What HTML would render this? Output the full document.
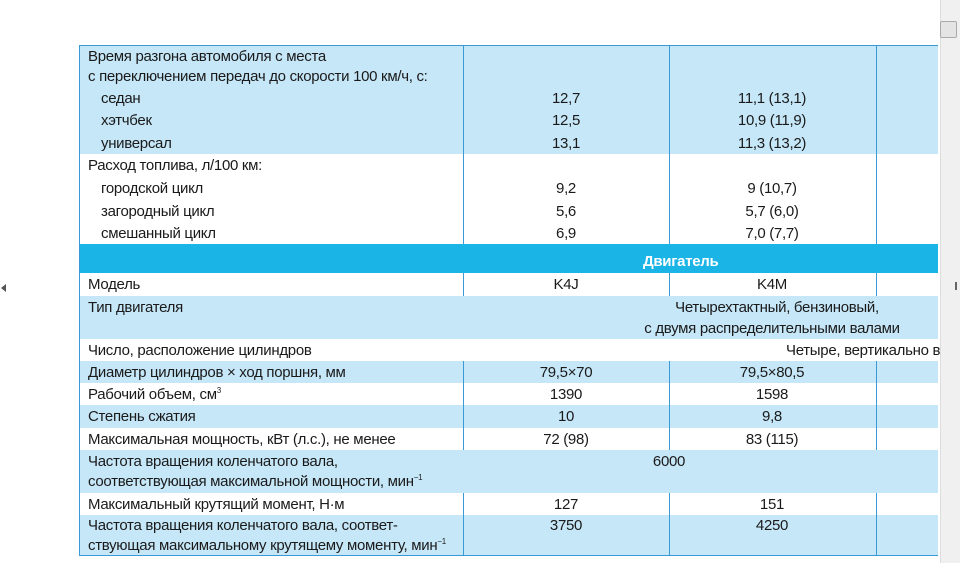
<!DOCTYPE html>
<html><head><meta charset="utf-8"><style>
body{margin:0;width:960px;height:563px;background:#fff;position:relative;overflow:hidden;font-family:"Liberation Sans Narrow","Liberation Sans",sans-serif;font-size:15px;color:#1a1a1a;letter-spacing:-0.3px}
.r{position:absolute;left:79px;width:859px}
.b{background:#c6e7f8}
.t{position:absolute;white-space:nowrap;line-height:18px}
.c{transform:translateX(-50%)}
.v{position:absolute;width:1px;background:#3a9ad6}
sup{font-size:8px;line-height:0;vertical-align:6px}
</style></head><body>
<div class="r b" style="top:45px;height:109px"></div>
<div class="r" style="top:244px;height:29px;background:#1ab4e6"></div>
<div class="r b" style="top:296px;height:43px"></div>
<div class="r b" style="top:361px;height:22px"></div>
<div class="r b" style="top:405px;height:23px"></div>
<div class="r b" style="top:450px;height:43px"></div>
<div class="r b" style="top:515px;height:41px"></div>
<div style="position:absolute;left:79px;top:45px;width:859px;height:1px;background:#3a9ad6"></div>
<div style="position:absolute;left:79px;top:555px;width:859px;height:1px;background:#3a9ad6"></div>
<div class="v" style="left:79px;top:45px;height:511px"></div>
<div class="v" style="left:463px;top:45px;height:199px"></div>
<div class="v" style="left:669px;top:45px;height:199px"></div>
<div class="v" style="left:876px;top:45px;height:199px"></div>
<div class="v" style="left:463px;top:273px;height:23px"></div>
<div class="v" style="left:669px;top:273px;height:23px"></div>
<div class="v" style="left:876px;top:273px;height:23px"></div>
<div class="v" style="left:463px;top:361px;height:89px"></div>
<div class="v" style="left:669px;top:361px;height:89px"></div>
<div class="v" style="left:876px;top:361px;height:89px"></div>
<div class="v" style="left:463px;top:493px;height:63px"></div>
<div class="v" style="left:669px;top:493px;height:63px"></div>
<div class="v" style="left:876px;top:493px;height:63px"></div>

<div class="t" style="left:88px;top:48px">Время разгона автомобиля с места</div>
<div class="t" style="left:88px;top:68px">с переключением передач до скорости 100 км/ч, с:</div>
<div class="t" style="left:101px;top:90px">седан</div>
<div class="t" style="left:101px;top:112px">хэтчбек</div>
<div class="t" style="left:101px;top:135px">универсал</div>
<div class="t c" style="left:566px;top:90px">12,7</div>
<div class="t c" style="left:566px;top:112px">12,5</div>
<div class="t c" style="left:566px;top:135px">13,1</div>
<div class="t c" style="left:772px;top:90px">11,1 (13,1)</div>
<div class="t c" style="left:772px;top:112px">10,9 (11,9)</div>
<div class="t c" style="left:772px;top:135px">11,3 (13,2)</div>
<div class="t" style="left:88px;top:157px">Расход топлива, л/100 км:</div>
<div class="t" style="left:101px;top:180px">городской цикл</div>
<div class="t" style="left:101px;top:203px">загородный цикл</div>
<div class="t" style="left:101px;top:225px">смешанный цикл</div>
<div class="t c" style="left:566px;top:180px">9,2</div>
<div class="t c" style="left:566px;top:203px">5,6</div>
<div class="t c" style="left:566px;top:225px">6,9</div>
<div class="t c" style="left:772px;top:180px">9 (10,7)</div>
<div class="t c" style="left:772px;top:203px">5,7 (6,0)</div>
<div class="t c" style="left:772px;top:225px">7,0 (7,7)</div>
<div class="t" style="left:643px;top:253px;color:#fff;font-weight:bold">Двигатель</div>
<div class="t" style="left:88px;top:276px">Модель</div>
<div class="t c" style="left:566px;top:276px">K4J</div>
<div class="t c" style="left:772px;top:276px">K4M</div>
<div class="t" style="left:88px;top:299px">Тип двигателя</div>
<div class="t c" style="left:777px;top:299px">Четырехтактный, бензиновый,</div>
<div class="t c" style="left:772px;top:320px">с двумя распределительными валами</div>
<div class="t" style="left:88px;top:342px">Число, расположение цилиндров</div>
<div class="t" style="left:786px;top:342px">Четыре, вертикально в</div>
<div class="t" style="left:88px;top:364px">Диаметр цилиндров × ход поршня, мм</div>
<div class="t c" style="left:566px;top:364px">79,5×70</div>
<div class="t c" style="left:772px;top:364px">79,5×80,5</div>
<div class="t" style="left:88px;top:386px">Рабочий объем, см<sup>3</sup></div>
<div class="t c" style="left:566px;top:386px">1390</div>
<div class="t c" style="left:772px;top:386px">1598</div>
<div class="t" style="left:88px;top:408px">Степень сжатия</div>
<div class="t c" style="left:566px;top:408px">10</div>
<div class="t c" style="left:772px;top:408px">9,8</div>
<div class="t" style="left:88px;top:431px">Максимальная мощность, кВт (л.с.), не менее</div>
<div class="t c" style="left:566px;top:431px">72 (98)</div>
<div class="t c" style="left:772px;top:431px">83 (115)</div>
<div class="t" style="left:88px;top:453px">Частота вращения коленчатого вала,</div>
<div class="t" style="left:88px;top:473px">соответствующая максимальной мощности, мин<sup>−1</sup></div>
<div class="t c" style="left:669px;top:453px">6000</div>
<div class="t" style="left:88px;top:496px">Максимальный крутящий момент, Н·м</div>
<div class="t c" style="left:566px;top:496px">127</div>
<div class="t c" style="left:772px;top:496px">151</div>
<div class="t" style="left:88px;top:517px">Частота вращения коленчатого вала, соответ-</div>
<div class="t" style="left:88px;top:537px">ствующая максимальному крутящему моменту, мин<sup>−1</sup></div>
<div class="t c" style="left:566px;top:517px">3750</div>
<div class="t c" style="left:772px;top:517px">4250</div>

<div style="position:absolute;left:940px;top:0;width:20px;height:563px;background:#f0f0f0;border-left:1px solid #ddd"></div>
<div style="position:absolute;left:940px;top:21px;width:15px;height:15px;background:#e4e4e4;border:1px solid #aaa;border-radius:2px"></div>
<div style="position:absolute;left:1px;top:284px;width:0;height:0;border-top:4px solid transparent;border-bottom:4px solid transparent;border-right:5px solid #555"></div>
<div style="position:absolute;left:955px;top:282px;width:2px;height:8px;background:#666"></div>
</body></html>
